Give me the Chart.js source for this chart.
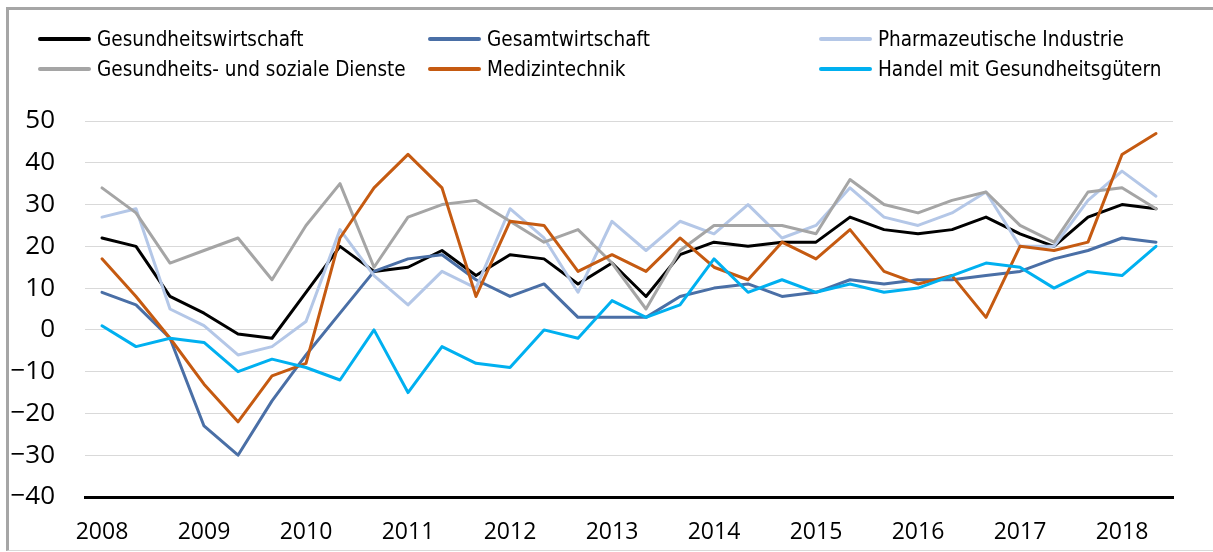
<!DOCTYPE html>
<html>
<head>
<meta charset="utf-8">
<script src="https://cdn.jsdelivr.net/npm/chart.js@4.4.1/dist/chart.umd.min.js"></script>
<style>
  html, body { margin: 0; padding: 0; background: #fff; }
  #wrap { position: absolute; left: 0; top: 0; width: 1213px; height: 552px; overflow: hidden; }
  #frame { position: absolute; left: 6px; top: 7px; width: 1220px; height: 540px;
           border-left: 3px solid #a6a6a6; border-top: 3px solid #a6a6a6; border-bottom: 1px solid #d9d9d9; }
  #c { position: absolute; left: 0; top: 0; }
  .lg-line { position: absolute; height: 4px; border-radius: 2px; }
  .lg-text { position: absolute; font-family: "DejaVu Sans Condensed", "DejaVu Sans", sans-serif;
             font-stretch: condensed; font-size: 20.5px; line-height: 24px; color: #000; white-space: nowrap; }
</style>
</head>
<body>
<div id="wrap">
  <div id="frame"></div>
  <canvas id="c" width="1213" height="552"></canvas>
  <div id="legend"></div>
</div>
<script>
// Categories: three periods per year, 2008 to mid-2018
const categories = [
  '2008','','', '2009','','', '2010','','', '2011','','', '2012','','',
  '2013','','', '2014','','', '2015','','', '2016','','', '2017','','',
  '2018',''
];
const yTicks = [50, 40, 30, 20, 10, 0, -10, -20, -30, -40];

const seriesNames = [
  'Gesundheitswirtschaft',
  'Gesamtwirtschaft',
  'Pharmazeutische Industrie',
  'Gesundheits- und soziale Dienste',
  'Medizintechnik',
  'Handel mit Gesundheitsgütern'
];
const seriesColors = ['#000000', '#4a6fa6', '#b4c7e7', '#a5a5a5', '#c55a11', '#00b0f0'];

const gesundheitswirtschaft = [22,20,8,4,-1,-2,9,20,14,15,19,13,18,17,11,16,8,18,21,20,21,21,27,24,23,24,27,23,20,27,30,29];
const gesamtwirtschaft      = [9,6,-2,-23,-30,-17,-6,4,14,17,18,12,8,11,3,3,3,8,10,11,8,9,12,11,12,12,13,14,17,19,22,21];
const pharma                = [27,29,5,1,-6,-4,2,24,13,6,14,10,29,22,9,26,19,26,23,30,22,25,34,27,25,28,33,20,20,31,38,32];
const sozialeDienste        = [34,28,16,19,22,12,25,35,15,27,30,31,26,21,24,16,5,19,25,25,25,23,36,30,28,31,33,25,21,33,34,29];
const medizintechnik        = [17,8,-2,-13,-22,-11,-8,22,34,42,34,8,26,25,14,18,14,22,15,12,21,17,24,14,11,13,3,20,19,21,42,47];
const handel                = [1,-4,-2,-3,-10,-7,-9,-12,0,-15,-4,-8,-9,0,-2,7,3,6,17,9,12,9,11,9,10,13,16,15,10,14,13,20];

const seriesValues = [gesundheitswirtschaft, gesamtwirtschaft, pharma, sozialeDienste, medizintechnik, handel];

// HTML legend (3 columns x 2 rows)
const legendPos = [
  {lx: 38, tx: 97, y: 39},
  {lx: 428, tx: 487, y: 39},
  {lx: 819, tx: 878, y: 39},
  {lx: 38, tx: 97, y: 69},
  {lx: 428, tx: 487, y: 69},
  {lx: 819, tx: 878, y: 69}
];
const legendOrder = [0, 1, 2, 3, 4, 5];
const lg = document.getElementById('legend');
legendOrder.forEach((si, k) => {
  const p = legendPos[k];
  const line = document.createElement('div');
  line.className = 'lg-line';
  line.style.left = p.lx + 'px';
  line.style.width = (p.tx - p.lx - 6) + 'px';
  line.style.top = (p.y - 2) + 'px';
  line.style.background = seriesColors[si];
  lg.appendChild(line);
  const t = document.createElement('div');
  t.className = 'lg-text';
  t.style.left = p.tx + 'px';
  t.style.top = (p.y - 12) + 'px';
  t.textContent = seriesNames[si];
  lg.appendChild(t);
});

const datasets = seriesValues.map((vals, i) => ({
  label: seriesNames[i],
  data: vals,
  borderColor: seriesColors[i],
  backgroundColor: seriesColors[i],
  borderWidth: 3,
  pointRadius: 0,
  pointHoverRadius: 0,
  tension: 0,
  fill: false,
  borderJoinStyle: 'round',
  borderCapStyle: 'round',
  order: seriesValues.length - 1 - i
}));

new Chart(document.getElementById('c'), {
  type: 'line',
  data: { labels: categories, datasets },
  options: {
    responsive: false,
    animation: false,
    devicePixelRatio: 1,
    layout: { padding: { top: 121, right: 40, bottom: 0, left: 0 } },
    plugins: { legend: { display: false }, tooltip: { enabled: false } },
    scales: {
      x: {
        type: 'category',
        offset: true,
        grid: { drawOnChartArea: false, drawTicks: false, color: 'rgba(0,0,0,0)' },
        border: { display: true, color: '#000000', width: 3 },
        ticks: {
          autoSkip: false, maxRotation: 0, minRotation: 0,
          padding: 22,
          color: '#000000',
          font: { family: '"Open Sans", sans-serif', size: 23 }
        },
        afterFit(scale) { scale.height = 55; }
      },
      y: {
        min: -40, max: 50,
        afterBuildTicks(scale) { scale.ticks = yTicks.map(v => ({ value: v })); },
        grid: { color: '#d9d9d9', lineWidth: 1, drawTicks: false },
        border: { display: false },
        ticks: {
          padding: 30,
          color: '#000000',
          font: { family: '"Open Sans", sans-serif', size: 26 },
          callback: (v) => (v < 0 ? '\u2212' + Math.abs(v) : String(v))
        },
        afterFit(scale) { scale.width = 85; }
      }
    }
  }
});
</script>
</body>
</html>
